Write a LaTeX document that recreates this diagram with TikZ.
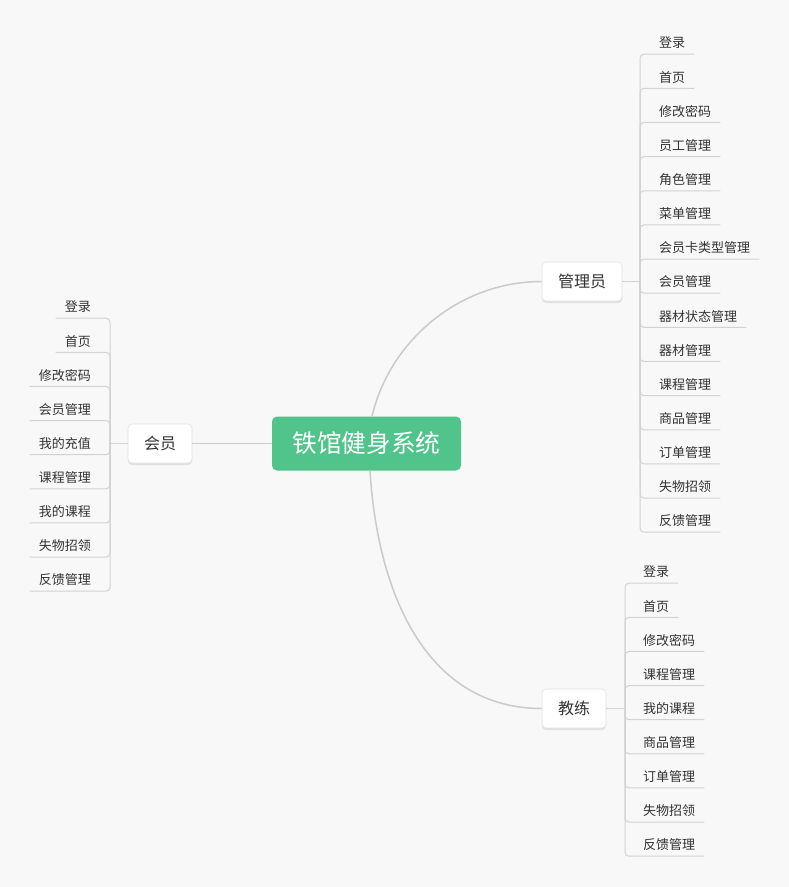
\documentclass[tikz,border=0pt]{standalone}
\usepackage{fontspec}
\setmainfont{Noto Sans CJK SC}
\definecolor{bgc}{HTML}{F8F8F8}
\definecolor{maingreen}{HTML}{50C48B}
\definecolor{linec}{HTML}{CACACA}
\definecolor{leafline}{HTML}{D2D2D2}
\definecolor{txt}{HTML}{333333}
\definecolor{nodeborder}{HTML}{E2E2E2}
\begin{document}
\begin{tikzpicture}[x=1pt,y=-1pt,
  rootbox/.style={fill=maingreen, rounded corners=5pt, minimum width=189pt, minimum height=54pt,
    inner sep=0pt, text=white, font=\fontsize{24.7}{26}\selectfont},
  branchbox/.style={fill=white, draw=nodeborder, line width=0.6pt, rounded corners=4pt,
    minimum height=39pt, inner xsep=16pt, inner ysep=0pt, text=txt,
    text height=13pt, text depth=2pt, font=\fontsize{16}{18}\selectfont},
  shadowbox/.style={fill=black!12, rounded corners=4pt, draw=none},
  leafbox/.style={inner xsep=9pt, inner ysep=5.5pt, text height=12.4pt, text depth=0.6pt,
    text=txt, font=\fontsize{13}{15}\selectfont},
  mainline/.style={draw=linec, line width=1.5pt},
  leafline/.style={draw=leafline, line width=1pt, rounded corners=4pt},
]
\fill[bgc] (0,0) rectangle (789,887);
\useasboundingbox (0,0) rectangle (789,887);

% shadows of branch boxes
\fill[shadowbox] (128,425.5) rectangle (192,465);
\fill[shadowbox] (542,263.5) rectangle (622,303);
\fill[shadowbox] (542,690.5) rectangle (606,730);

% root and branches
\node[rootbox] (root) at (366.5,443.5) {铁馆健身系统};
\node[branchbox] (mem) at (160,443.5) {会员};
\node[branchbox] (adm) at (582,281.5) {管理员};
\node[branchbox] (coa) at (574,708.5) {教练};

% main connectors
\draw[mainline] (root.west) -- (mem.east);
\draw[mainline] ([xshift=5.5pt]root.north) .. controls (390,340) and (460,281.5) .. (adm.west);
\draw[mainline] ([xshift=3.5pt]root.south) .. controls (378,600) and (430,708.5) .. (coa.west);

% hubs
\coordinate (hubA) at (640,281.5);
\coordinate (hubC) at (625,708.5);
\coordinate (hubM) at (110,443.5);
\draw[leafline] (adm.east) -- (hubA);
\draw[leafline] (coa.east) -- (hubC);
\draw[leafline] (mem.west) -- (hubM);

% admin leaves
\foreach \t [count=\i from 0] in {登录,首页,修改密码,员工管理,角色管理,菜单管理,会员卡类型管理,会员管理,器材状态管理,器材管理,课程管理,商品管理,订单管理,失物招领,反馈管理}{
  \node[leafbox, anchor=west] (a\i) at (650,42+34.143*\i) {\t};
  \draw[leafline] (hubA) |- (a\i.south east);
}
% coach leaves
\foreach \t [count=\i from 0] in {登录,首页,修改密码,课程管理,我的课程,商品管理,订单管理,失物招领,反馈管理}{
  \node[leafbox, anchor=west] (c\i) at (634,571+34.125*\i) {\t};
  \draw[leafline] (hubC) |- (c\i.south east);
}
% member leaves
\foreach \t [count=\i from 0] in {登录,首页,修改密码,会员管理,我的充值,课程管理,我的课程,失物招领,反馈管理}{
  \node[leafbox, anchor=east] (m\i) at (100,306+34.125*\i) {\t};
  \draw[leafline] (hubM) |- (m\i.south west);
}
\end{tikzpicture}
\end{document}
